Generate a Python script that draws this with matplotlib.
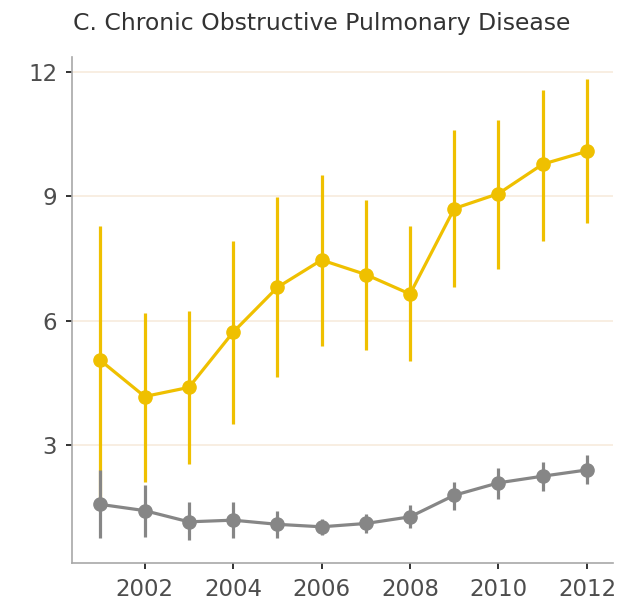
import matplotlib
matplotlib.use("Agg")
import matplotlib.pyplot as plt

years = [2001, 2002, 2003, 2004, 2005, 2006, 2007, 2008, 2009, 2010, 2011, 2012]

# Yellow series (higher)
yellow_mean = [5.04, 4.17, 4.39, 5.72, 6.80, 7.46, 7.11, 6.64, 8.70, 9.06, 9.77, 10.08]
yellow_low = [1.70, 2.12, 2.54, 3.51, 4.65, 5.39, 5.30, 5.03, 6.82, 7.25, 7.93, 8.36]
yellow_high = [8.28, 6.18, 6.22, 7.91, 8.98, 9.52, 8.91, 8.28, 10.59, 10.83, 11.56, 11.82]

# Gray series (lower)
gray_mean = [1.57, 1.42, 1.15, 1.19, 1.09, 1.03, 1.11, 1.27, 1.79, 2.09, 2.25, 2.40]
gray_low = [0.76, 0.79, 0.71, 0.75, 0.76, 0.83, 0.87, 0.99, 1.43, 1.71, 1.90, 2.05]
gray_high = [2.40, 2.04, 1.62, 1.63, 1.42, 1.23, 1.35, 1.55, 2.12, 2.44, 2.58, 2.76]

yticks = [3, 6, 9, 12]
xticks = [2002, 2004, 2006, 2008, 2010, 2012]
title = "C. Chronic Obstructive Pulmonary Disease"

YELLOW = "#EFC000"
GRAY = "#868686"

plt.rcParams['font.family'] = ['DejaVu Sans']

fig = plt.figure(figsize=(6.23, 6.05), dpi=100)
ax = fig.add_axes([0.1151, 0.0689, 0.984 - 0.1151, 0.9063 - 0.0689])

for mean, lo, hi, col, z in [(yellow_mean, yellow_low, yellow_high, YELLOW, 2),
                             (gray_mean, gray_low, gray_high, GRAY, 3)]:
    yerr = [[m - l for m, l in zip(mean, lo)], [h - m for m, h in zip(mean, hi)]]
    ax.errorbar(years, mean, yerr=yerr, color=col, ecolor=col, elinewidth=2.3,
                capsize=0, lw=2.3, marker='o', markersize=9.5, zorder=z)

ax.set_xlim(2000.35, 2012.59)
ax.set_ylim(0.15, 12.36)
ax.set_xticks(xticks)
ax.set_yticks(yticks)
ax.set_xticklabels([str(x) for x in xticks])
ax.set_yticklabels([str(y) for y in yticks])

ax.grid(axis='y', color='#F7EBDD', lw=1.2, zorder=0)
ax.set_axisbelow(True)

for s in ['top', 'right']:
    ax.spines[s].set_visible(False)
for s in ['left', 'bottom']:
    ax.spines[s].set_color('#A8A8A8')
    ax.spines[s].set_linewidth(1.2)

ax.tick_params(axis='both', length=4.5, width=1.4, color='#333333',
               labelsize=16.5, labelcolor='#4D4D4D', pad=6)

fig.text(0.1167, 0.9608, title, fontsize=16.9, color='#333333', ha='left', va='center')

fig.savefig("out.png", dpi=100, facecolor='white')
